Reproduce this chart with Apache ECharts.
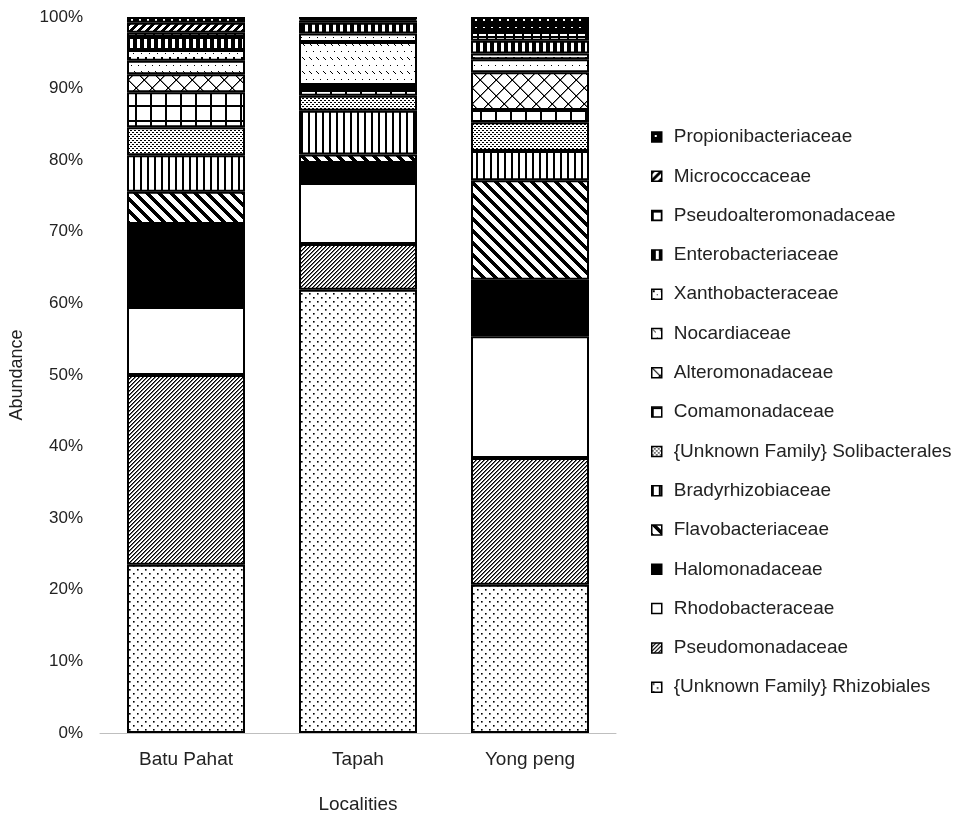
<!DOCTYPE html>
<html>
<head>
<meta charset="utf-8">
<script src="https://cdn.jsdelivr.net/npm/echarts@6/dist/echarts.min.js"></script>
<style>
html,body{margin:0;padding:0;background:#fff;}
#chart{width:966px;height:820px;}
</style>
</head>
<body>
<div id="chart"></div>
<script>
// ---- data (percent abundance), bottom-to-top stacking order ----
const categories = ['Batu Pahat', 'Tapah', 'Yong peng'];
const yTicks = ['0%','10%','20%','30%','40%','50%','60%','70%','80%','90%','100%'];
const seriesNames = [
  '{Unknown Family} Rhizobiales', 'Pseudomonadaceae', 'Rhodobacteraceae', 'Halomonadaceae',
  'Flavobacteriaceae', 'Bradyrhizobiaceae', '{Unknown Family} Solibacterales', 'Comamonadaceae',
  'Alteromonadaceae', 'Nocardiaceae', 'Xanthobacteraceae', 'Enterobacteriaceae',
  'Pseudoalteromonadaceae', 'Micrococcaceae', 'Propionibacteriaceae'
];
const rhizobiales      = [23.5, 61.9, 20.7];
const pseudomonadaceae = [26.5, 6.4, 17.7];
const rhodobacteraceae = [9.5, 8.5, 17.0];
const halomonadaceae   = [11.6, 2.8, 7.9];
const flavobacteriaceae= [4.5, 1.2, 13.9];
const bradyrhizobiaceae= [5.1, 6.1, 4.1];
const solibacterales   = [3.9, 2.1, 4.0];
const comamonadaceae   = [4.9, 1.1, 1.7];
const alteromonadaceae = [2.5, 0.4, 5.3];
const nocardiaceae     = [1.9, 6.0, 1.8];
const xanthobacteraceae= [1.5, 1.2, 0.8];
const enterobacteriaceae=[1.8, 1.5, 1.8];
const pseudoalteromonadaceae=[0.6, 0.3, 1.2];
const micrococcaceae   = [1.4, 0.2, 0.3];
const propionibacteriaceae=[0.8, 0.3, 1.8];
const seriesValues = [rhizobiales, pseudomonadaceae, rhodobacteraceae, halomonadaceae,
  flavobacteriaceae, bradyrhizobiaceae, solibacterales, comamonadaceae, alteromonadaceae,
  nocardiaceae, xanthobacteraceae, enterobacteriaceae, pseudoalteromonadaceae,
  micrococcaceae, propionibacteriaceae];

// ---- pattern fills ----
function mk(w, h, draw, bg) {
  const c = document.createElement('canvas');
  c.width = w; c.height = h;
  const g = c.getContext('2d');
  g.fillStyle = bg || '#fff'; g.fillRect(0, 0, w, h);
  g.fillStyle = '#000'; g.strokeStyle = '#000';
  draw(g, w, h);
  return { image: c, repeat: 'repeat' };
}
const patterns = [
  // Rhizobiales: sparse dots
  mk(8, 8, g => { g.fillRect(1, 1, 1.6, 1.6); g.fillRect(5, 5, 1.6, 1.6); }),
  // Pseudomonadaceae: fine "/" hatch
  mk(4, 4, g => { for (let y = 0; y < 4; y++) { g.fillRect((3 - y + 4) % 4, y, 1, 1); g.fillRect((4 - y + 4) % 4, y, 0.6, 1); } }),
  // Rhodobacteraceae: white
  '#ffffff',
  // Halomonadaceae: black
  '#000000',
  // Flavobacteriaceae: wide "\" stripes
  mk(12, 12, g => { for (let y = 0; y < 12; y++) for (let k = 0; k < 5; k++) g.fillRect((y + k) % 12, y, 1, 1); }),
  // Bradyrhizobiaceae: vertical lines
  mk(7, 2, g => { g.fillRect(0, 0, 2, 2); }),
  // Solibacterales: dense dots
  mk(4, 4, g => { g.fillRect(0, 0, 2, 1); g.fillRect(2, 2, 2, 1); }),
  // Comamonadaceae: large grid
  mk(15, 15, g => { g.fillRect(0, 0, 2, 15); g.fillRect(0, 0, 15, 2); }),
  // Alteromonadaceae: diamonds
  mk(16, 16, g => { for (let i = 0; i < 16; i++) { g.fillRect(i, i, 1.5, 1); g.fillRect(15 - i, i, 1.5, 1); } }),
  // Nocardiaceae: sparse "\" dashes
  mk(7, 14, g => { g.fillRect(1, 1, 1, 1); g.fillRect(2, 2, 1, 1); g.fillRect(3, 3, 1, 1); g.fillRect(5, 9, 1, 1); }),
  // Xanthobacteraceae: dots
  mk(8, 8, g => { g.fillRect(1, 1, 2, 2); g.fillRect(5, 5, 1, 1); }),
  // Enterobacteriaceae: thick vertical bars
  mk(7, 2, g => { g.fillRect(0, 0, 4, 2); }),
  // Pseudoalteromonadaceae: white squares on black
  mk(9, 9, g => { g.fillStyle = '#fff'; g.fillRect(2, 2, 7, 7); }, '#000'),
  // Micrococcaceae: wide "/" stripes
  mk(8, 8, g => { for (let y = 0; y < 8; y++) for (let k = 0; k < 4; k++) g.fillRect((7 - y + k + 8) % 8, y, 1, 1); }),
  // Propionibacteriaceae: black with white dots
  mk(8, 8, g => { g.fillStyle = '#fff'; g.fillRect(3, 3, 2, 2); }, '#000')
];

const FONT = "'Liberation Sans', Arial, sans-serif";
const series = seriesNames.map((name, i) => ({
  name: name,
  type: 'bar',
  stack: 'total',
  barWidth: 118,
  data: seriesValues[i],
  itemStyle: { color: patterns[i], borderColor: '#000', borderWidth: 2 },
  emphasis: { disabled: true }
}));

const chart = echarts.init(document.getElementById('chart'), null, { renderer: 'canvas' });
chart.setOption({
  animation: false,
  backgroundColor: '#fff',
  textStyle: { fontFamily: FONT },
  grid: { left: 100, right: 350, top: 17, bottom: 87, outerBoundsMode: 'none', containLabel: false },
  xAxis: {
    type: 'category',
    data: categories,
    name: 'Localities',
    nameLocation: 'middle',
    nameGap: 62,
    nameTextStyle: { fontSize: 19, color: '#222', fontFamily: FONT },
    axisLine: { lineStyle: { color: '#bfbfbf', width: 1 } },
    axisTick: { show: false },
    axisLabel: { fontSize: 19, color: '#222', margin: 17, fontFamily: FONT }
  },
  yAxis: {
    type: 'value',
    min: 0, max: 100, interval: 10,
    name: 'Abundance',
    nameLocation: 'middle',
    nameRotate: 90,
    nameGap: 74,
    nameTextStyle: { fontSize: 18, color: '#222', fontFamily: FONT },
    axisLine: { show: false },
    axisTick: { show: false },
    splitLine: { show: false },
    axisLabel: { fontSize: 17, color: '#222', margin: 17, fontFamily: FONT,
      formatter: v => yTicks[Math.round(v / 10)] }
  },
  legend: {
    orient: 'vertical',
    left: 651,
    top: 127,
    padding: 0,
    icon: 'rect',
    itemWidth: 10,
    itemHeight: 10,
    itemGap: 19.3,
    data: seriesNames.slice().reverse(),
    textStyle: { fontSize: 19, color: '#222', lineHeight: 20, fontFamily: FONT, padding: [0, 0, 0, 7] },
    itemStyle: { borderColor: '#000', borderWidth: 1.5 }
  },
  series: series
});
</script>
</body>
</html>
